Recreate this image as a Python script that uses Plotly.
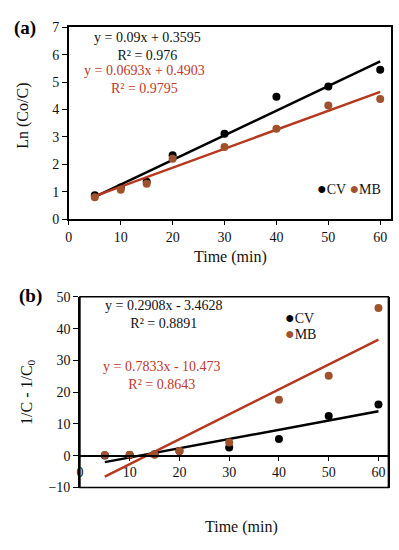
import plotly.graph_objects as go

# ---------------- data ----------------
time_a = [5, 10, 15, 20, 30, 40, 50, 60]
cv_a = [0.87, 1.15, 1.36, 2.33, 3.12, 4.47, 4.84, 5.45]
mb_a = [0.80, 1.07, 1.29, 2.20, 2.63, 3.30, 4.15, 4.39]
fit_a_cv = [0.09, 0.3595]
fit_a_mb = [0.0693, 0.4903]

time_b = [5, 10, 15, 20, 30, 40, 50, 60]
cv_b = [0.1, 0.2, 0.5, 1.5, 2.6, 5.3, 12.5, 16.1]
mb_b = [0.2, 0.3, 0.3, 1.5, 4.2, 17.6, 25.2, 46.5]
fit_b_cv = [0.2908, -3.4628]
fit_b_mb = [0.7833, -10.473]

eq_a_cv = "y = 0.09x + 0.3595<br>R² = 0.976"
eq_a_mb = "y = 0.0693x + 0.4903<br>R² = 0.9795"
eq_b_cv = "y = 0.2908x - 3.4628<br>R² = 0.8891"
eq_b_mb = "y = 0.7833x - 10.473<br>R² = 0.8643"

# ---------------- styling ----------------
W, H = 399, 550
FONT = "Liberation Serif, Times New Roman, serif"
BLACK = "#000000"
MB_MK = "#A0522D"
MB_LN = "#B5391E"
RED_TXT = "#C0392B"


def px(x):
    return x / W


def py(y):
    return 1 - y / H


def fit_line(xs, coef):
    x0, x1 = min(xs), max(xs)
    return [x0, x1], [coef[0] * x0 + coef[1], coef[0] * x1 + coef[1]]


fig = go.Figure()

# panel (a)
for xs, ys, coef, name, mk, ln in [
    (time_a, cv_a, fit_a_cv, "CV", BLACK, BLACK),
    (time_a, mb_a, fit_a_mb, "MB", MB_MK, MB_LN),
]:
    lx, ly = fit_line(xs, coef)
    fig.add_trace(go.Scatter(x=lx, y=ly, mode="lines", line=dict(color=ln, width=2.5),
                             xaxis="x", yaxis="y", showlegend=False, hoverinfo="skip"))
    fig.add_trace(go.Scatter(x=xs, y=ys, mode="markers", name=name,
                             marker=dict(color=mk, size=8), xaxis="x", yaxis="y",
                             showlegend=False))

# panel (b)
for xs, ys, coef, name, mk, ln in [
    (time_b, cv_b, fit_b_cv, "CV", BLACK, BLACK),
    (time_b, mb_b, fit_b_mb, "MB", MB_MK, MB_LN),
]:
    lx, ly = fit_line(xs, coef)
    fig.add_trace(go.Scatter(x=lx, y=ly, mode="lines", line=dict(color=ln, width=2.5),
                             xaxis="x2", yaxis="y2", showlegend=False, hoverinfo="skip"))
    fig.add_trace(go.Scatter(x=xs, y=ys, mode="markers", name=name,
                             marker=dict(color=mk, size=8), xaxis="x2", yaxis="y2",
                             showlegend=False))

tickfont = dict(family=FONT, size=14, color="#111")

# domains
xa_dom = [px(65.5), px(390.5)]
ya_dom = [py(218), py(21)]
xb_dom = [px(76.7), px(388.3)]
yb_dom = [py(494), py(298)]
ymin_b, ymax_b = -10, 50
zero_pos = yb_dom[0] + (yb_dom[1] - yb_dom[0]) * (0 - ymin_b) / (ymax_b - ymin_b)

fig.update_layout(
    width=W, height=H,
    margin=dict(l=0, r=0, t=0, b=0),
    paper_bgcolor="white", plot_bgcolor="white",
    font=dict(family=FONT, size=14, color="#111"),
    xaxis=dict(domain=xa_dom, anchor="y", range=[0, 62], tickvals=[0, 10, 20, 30, 40, 50, 60],
               showline=True, linecolor="black", linewidth=1.5, mirror=True,
               ticks="outside", ticklen=4, tickcolor="black", showgrid=False, zeroline=False,
               tickfont=tickfont, ticklabeloverflow="allow"),
    yaxis=dict(domain=ya_dom, anchor="x", range=[0, 7], dtick=1,
               showline=True, linecolor="black", linewidth=1.5, mirror=True,
               ticks="outside", ticklen=5, tickcolor="black", showgrid=False, zeroline=False,
               tickfont=tickfont),
    xaxis2=dict(domain=xb_dom, anchor="free", position=zero_pos, range=[0, 62],
                tickvals=[0, 10, 20, 30, 40, 50, 60],
                showline=True, linecolor="black", linewidth=1.5,
                ticks="outside", ticklen=4, tickcolor="black", showgrid=False, zeroline=False,
                tickfont=tickfont, ticklabeloverflow="allow"),
    yaxis2=dict(domain=yb_dom, anchor="x2", range=[ymin_b, ymax_b], dtick=10,
                showline=True, linecolor="black", linewidth=1.5, mirror=True,
                ticks="outside", ticklen=5, tickcolor="black", showgrid=False, zeroline=False,
                tickfont=tickfont),
)

# box borders (top/bottom of panel b)
fig.add_shape(type="rect", xref="x2 domain", yref="y2 domain", x0=0, x1=1, y0=0, y1=1,
              line=dict(color="black", width=1.5), layer="above")

ann = []


def add_text(x, y, text, size=14, color="#111", angle=0, bold=False, xanchor="center"):
    t = f"<b>{text}</b>" if bold else text
    ann.append(dict(x=px(x), y=py(y), xref="paper", yref="paper", text=t, showarrow=False,
                    xanchor=xanchor, yanchor="middle", textangle=angle,
                    font=dict(family=FONT, size=size, color=color)))


add_text(21, 22, "(a)", size=19, color="black", bold=True)
add_text(27, 297, "(b)", size=19, color="black", bold=True)
add_text(19, 112, "Ln (Co/C)", size=16, angle=-90)
add_text(23, 396, "1/C - 1/C<sub>0</sub>", size=16, angle=-90)
add_text(229, 257, "Time (min)", size=16)
add_text(240, 535, "Time (min)", size=16)
add_text(145, 41, eq_a_cv, size=14, color="#111")
add_text(142, 75, eq_a_mb, size=14, color=RED_TXT)
add_text(162, 316, eq_b_cv, size=14, color="#111")
add_text(160, 379, eq_b_mb, size=14, color=RED_TXT)

# legends
dot = "<span style='color:{c};font-size:16px'>●</span>"
add_text(314, 187, dot.format(c="black") + "CV " + dot.format(c=MB_MK) + "MB", xanchor="left")
add_text(282, 319, dot.format(c="black") + "CV", xanchor="left")
add_text(282, 336, dot.format(c=MB_MK) + "MB", xanchor="left")

fig.update_layout(annotations=ann)

fig.write_html("out.html", config={"displayModeBar": False},
               post_script="document.body.style.margin='0';")
